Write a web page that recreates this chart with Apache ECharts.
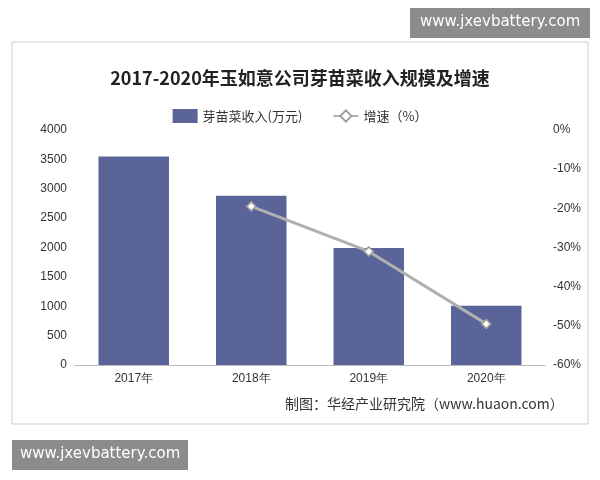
<!DOCTYPE html>
<html><head><meta charset="utf-8">
<script src="https://cdn.jsdelivr.net/npm/echarts@6/dist/echarts.min.js"></script>
<style>body{margin:0;background:#fff}#c{width:600px;height:480px}</style></head>
<body><div id="c"></div>
<script>
const categories=['2017年','2018年','2019年','2020年'];
const revenue=[3550,2880,1990,1010];
const growth=[null,-19.5,-31,-49.5];
const chart=echarts.init(document.getElementById('c'));
chart.setOption({
  animation:false,
  graphic:[
    {type:'rect',shape:{x:12,y:42,width:576,height:382},style:{fill:'#fff',stroke:'#cfcfcf',lineWidth:1}},
    {type:'rect',shape:{x:410,y:8,width:180,height:30},style:{fill:'#8c8c8c'}},
    {type:'text',left:420,top:15,style:{text:'www.jxevbattery.com',fill:'#fff',font:'15px "DejaVu Sans"'}},
    {type:'rect',shape:{x:12,y:440,width:176,height:30},style:{fill:'#8c8c8c'}},
    {type:'text',left:20,top:447,style:{text:'www.jxevbattery.com',fill:'#fff',font:'15px "DejaVu Sans"'}},
    {type:'text',left:285,top:397,style:{text:'制图：华经产业研究院（www.huaon.com）',fill:'#333',font:'14px "Noto Sans CJK SC"'}}
  ],
  title:{text:'2017-2020年玉如意公司芽苗菜收入规模及增速',left:'center',top:64,textStyle:{fontSize:18,fontWeight:'bold',color:'#222',fontFamily:'Noto Sans CJK SC'}},
  legend:{top:104,left:'center',itemGap:30,textStyle:{fontSize:13,color:'#333',fontFamily:'Noto Sans CJK SC'},
    data:[{name:'芽苗菜收入(万元)',icon:'rect'},{name:'增速（%）'}]},
  grid:{left:75,right:55,top:130,bottom:115},
  xAxis:{type:'category',data:categories,axisTick:{show:false},axisLine:{lineStyle:{color:'#bbb'}},axisLabel:{color:'#333',fontSize:12}},
  yAxis:[
    {type:'value',min:0,max:4000,interval:500,splitLine:{show:false},axisLine:{show:false},axisLabel:{color:'#333',fontSize:12,formatter:v=>String(v)}},
    {type:'value',min:-60,max:0,interval:10,splitLine:{show:false},axisLine:{show:false},axisLabel:{color:'#333',fontSize:12,formatter:'{value}%'}}
  ],
  series:[
    {name:'芽苗菜收入(万元)',type:'bar',data:revenue,barWidth:'60%',itemStyle:{color:'#5a6499'}},
    {name:'增速（%）',type:'line',yAxisIndex:1,data:growth,symbol:'diamond',symbolSize:9,
     lineStyle:{color:'#b0b0b0',width:3},itemStyle:{color:'#fff',borderColor:'#a0a0a0',borderWidth:1.5}}
  ]
});
</script></body></html>
